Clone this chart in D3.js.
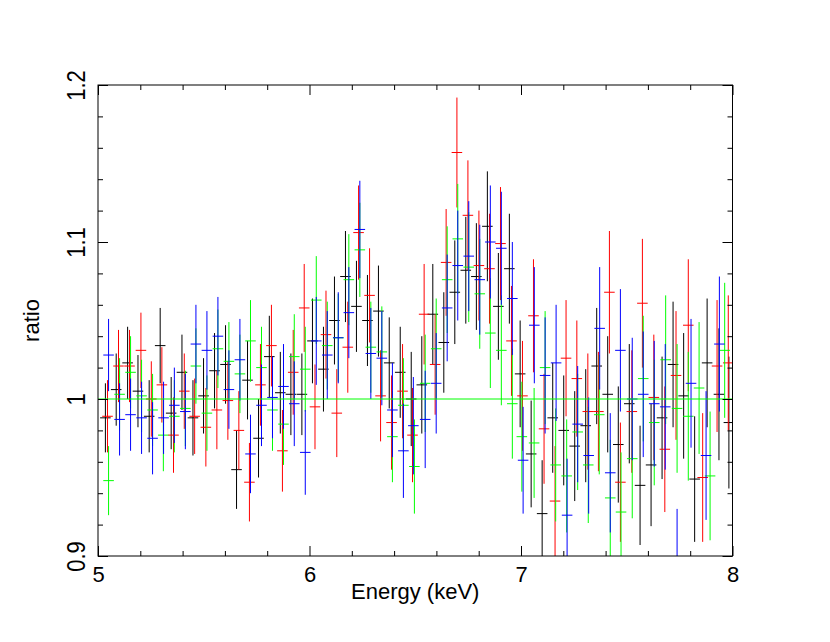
<!DOCTYPE html>
<html>
<head>
<meta charset="utf-8">
<script src="https://cdn.jsdelivr.net/npm/d3@7"></script>
<style>
  body { margin: 0; background: #fff; }
  text { font-family: "Liberation Sans", Arial, sans-serif; font-size: 22px; fill: #000; }
</style>
</head>
<body>
<div class="chart"></div>
<script>
// [energy keV, ratio, error] per bin
const blackData = [
  [5.035,0.988,0.022],[5.086,1.006,0.023],[5.140,1.023,0.023],[5.189,1.005,0.023],[5.242,0.989,0.023],
  [5.294,1.034,0.024],[5.346,0.991,0.023],[5.397,1.017,0.024],[5.449,0.988,0.024],[5.499,1.002,0.024],
  [5.551,1.018,0.024],[5.603,1.022,0.025],[5.655,0.955,0.025],[5.707,1.012,0.025],[5.759,0.975,0.025],
  [5.810,1.027,0.026],[5.862,1.004,0.026],[5.912,1.003,0.026],[5.964,1.003,0.026],[6.014,1.037,0.027],
  [6.066,1.019,0.027],[6.118,1.050,0.028],[6.170,1.078,0.029],[6.222,1.059,0.029],[6.274,1.050,0.029],
  [6.326,1.056,0.029],[6.377,1.023,0.029],[6.429,1.017,0.029],[6.481,1.000,0.030],[6.531,1.009,0.031],
  [6.583,1.054,0.032],[6.635,1.036,0.032],[6.687,1.068,0.033],[6.739,1.082,0.034],[6.789,1.078,0.034],
  [6.841,1.110,0.035],[6.893,1.059,0.034],[6.945,1.083,0.035],[6.996,1.016,0.034],[7.048,0.965,0.034],
  [7.100,0.927,0.034],[7.150,0.988,0.035],[7.202,0.980,0.035],[7.254,0.970,0.035],[7.306,0.983,0.036],
  [7.358,1.021,0.037],[7.410,1.003,0.037],[7.460,0.971,0.037],[7.512,0.997,0.038],[7.563,0.945,0.038],
  [7.615,0.958,0.039],[7.667,0.988,0.039],[7.719,1.022,0.040],[7.769,1.002,0.040],[7.821,0.949,0.040],
  [7.880,1.023,0.041],[7.936,1.003,0.042],[7.983,0.985,0.042]
];
const redData = [
  [5.045,0.989,0.023],[5.097,1.021,0.023],[5.149,1.021,0.023],[5.203,1.031,0.024],[5.252,1.000,0.024],
  [5.302,1.009,0.024],[5.357,0.977,0.024],[5.408,1.005,0.024],[5.457,0.989,0.024],[5.510,0.982,0.025],
  [5.562,0.993,0.025],[5.614,0.999,0.025],[5.666,0.980,0.025],[5.716,0.947,0.025],[5.768,1.009,0.026],
  [5.820,1.034,0.026],[5.872,0.967,0.026],[5.923,1.017,0.027],[5.975,1.058,0.028],[6.026,0.995,0.027],
  [6.078,1.041,0.028],[6.129,0.991,0.028],[6.181,1.033,0.029],[6.232,1.106,0.030],[6.284,1.066,0.030],
  [6.336,1.002,0.029],[6.388,0.985,0.030],[6.440,1.005,0.030],[6.487,0.977,0.030],[6.542,1.054,0.032],
  [6.594,1.022,0.032],[6.646,1.087,0.034],[6.697,1.157,0.035],[6.749,1.117,0.035],[6.801,1.085,0.035],
  [6.851,1.083,0.035],[6.903,1.099,0.036],[6.955,1.037,0.035],[7.007,1.002,0.035],[7.059,1.053,0.036],
  [7.109,0.981,0.035],[7.161,0.935,0.035],[7.213,1.026,0.037],[7.264,1.013,0.037],[7.316,0.992,0.037],
  [7.366,0.992,0.038],[7.418,1.068,0.039],[7.470,0.947,0.038],[7.524,0.992,0.039],[7.574,1.061,0.041],
  [7.628,1.001,0.040],[7.680,0.968,0.040],[7.733,1.015,0.041],[7.791,1.047,0.042],[7.859,0.950,0.041],
  [7.927,1.021,0.042],[7.980,1.023,0.043]
];
const greenData = [
  [5.050,0.948,0.022],[5.102,1.003,0.023],[5.154,1.017,0.023],[5.206,1.002,0.023],[5.258,0.993,0.023],
  [5.309,0.977,0.023],[5.361,0.989,0.023],[5.413,0.994,0.024],[5.463,1.021,0.024],[5.515,0.991,0.024],
  [5.567,1.032,0.025],[5.619,1.024,0.025],[5.671,1.016,0.025],[5.721,1.037,0.026],[5.773,1.020,0.026],
  [5.825,0.993,0.026],[5.877,0.984,0.026],[5.928,1.027,0.027],[5.980,1.019,0.027],[6.032,1.063,0.028],
  [6.084,1.034,0.028],[6.136,1.039,0.028],[6.186,1.076,0.029],[6.238,1.095,0.030],[6.290,1.033,0.029],
  [6.342,1.030,0.029],[6.392,0.976,0.029],[6.444,0.996,0.030],[6.496,0.957,0.030],[6.547,1.010,0.031],
  [6.599,1.032,0.032],[6.651,1.076,0.034],[6.701,1.102,0.035],[6.753,1.084,0.035],[6.805,1.067,0.035],
  [6.855,1.042,0.035],[6.907,1.031,0.035],[6.959,0.997,0.035],[7.004,0.976,0.035],[7.062,0.972,0.035],
  [7.114,1.020,0.036],[7.164,0.958,0.036],[7.216,0.951,0.036],[7.268,0.979,0.037],[7.318,0.958,0.037],
  [7.370,0.990,0.038],[7.422,0.937,0.037],[7.473,0.928,0.038],[7.526,0.962,0.038],[7.578,1.013,0.040],
  [7.630,0.985,0.040],[7.684,1.025,0.041],[7.738,0.994,0.041],[7.791,0.989,0.041],[7.842,1.007,0.042],
  [7.894,0.951,0.041],[7.963,1.031,0.043]
];
const blueData = [
  [5.050,1.028,0.023],[5.102,0.987,0.023],[5.154,0.990,0.023],[5.206,0.988,0.023],[5.258,0.975,0.023],
  [5.310,0.988,0.023],[5.361,0.996,0.024],[5.413,0.992,0.024],[5.463,1.035,0.025],[5.515,1.031,0.025],
  [5.567,1.040,0.025],[5.619,1.006,0.025],[5.671,1.025,0.026],[5.721,0.965,0.025],[5.773,0.996,0.026],
  [5.825,1.001,0.026],[5.877,1.008,0.027],[5.928,0.997,0.027],[5.980,0.966,0.027],[6.032,1.037,0.028],
  [6.084,1.028,0.028],[6.136,1.039,0.029],[6.186,1.055,0.029],[6.238,1.108,0.031],[6.290,1.029,0.029],
  [6.342,1.026,0.030],[6.392,0.993,0.030],[6.444,0.967,0.030],[6.491,0.983,0.031],[6.547,0.987,0.031],
  [6.599,1.010,0.032],[6.651,1.058,0.034],[6.701,1.085,0.035],[6.753,1.091,0.035],[6.805,1.076,0.035],
  [6.855,1.100,0.036],[6.907,1.096,0.036],[6.959,1.064,0.036],[7.010,0.961,0.034],[7.063,1.047,0.037],
  [7.114,1.015,0.037],[7.166,1.023,0.037],[7.218,0.926,0.036],[7.268,0.984,0.037],[7.320,0.964,0.037],
  [7.372,1.045,0.039],[7.422,0.953,0.038],[7.470,1.031,0.039],[7.526,1.000,0.039],[7.578,1.003,0.040],
  [7.630,0.997,0.040],[7.682,0.995,0.040],[7.738,0.890,0.040],[7.804,1.010,0.041],[7.875,0.964,0.041],
  [7.938,1.035,0.043]
];

const binHalf = 0.025;              // half bin width, keV
const modelRatio = 1;               // model line
const xMajor = [5, 6, 7, 8];
const xMinor = [5.2, 5.4, 5.6, 5.8, 6.2, 6.4, 6.6, 6.8, 7.2, 7.4, 7.6, 7.8];
const yMajor = [0.9, 1.0, 1.1, 1.2];
const yMinor = [0.92, 0.94, 0.96, 0.98, 1.02, 1.04, 1.06, 1.08, 1.12, 1.14, 1.16, 1.18];

const series = [
  { data: blackData, color: "#000000" },
  { data: redData,   color: "#ff0000" },
  { data: greenData, color: "#00ff00" },
  { data: blueData,  color: "#0000ff" }
];

// margin convention
const margin = {top: 85, right: 97.5, bottom: 86, left: 98};
const width = 830 - margin.left - margin.right,
      height = 642 - margin.top - margin.bottom;

const svg = d3.select(".chart").append("svg")
    .attr("width", 830)
    .attr("height", 642)
  .append("g")
    .attr("transform", `translate(${margin.left},${margin.top})`);

const xScale = d3.scaleLinear().domain([5, 8]).range([0, width]);
const yScale = d3.scaleLinear().domain([0.9, 1.2]).range([height, 0]);

svg.append("clipPath").attr("id", "plot-clip")
  .append("rect").attr("width", width).attr("height", height);

// data: bin width + error bar for each point
const plot = svg.append("g").attr("clip-path", "url(#plot-clip)");

series.forEach(s => {
  const g = plot.append("g").attr("stroke", s.color).attr("stroke-width", 1);
  g.selectAll(".xerr").data(s.data).join("line")
    .attr("class", "xerr")
    .attr("x1", d => xScale(d[0] - binHalf))
    .attr("x2", d => xScale(d[0] + binHalf))
    .attr("y1", d => yScale(d[1]))
    .attr("y2", d => yScale(d[1]));
  g.selectAll(".yerr").data(s.data).join("line")
    .attr("class", "yerr")
    .attr("x1", d => xScale(d[0]))
    .attr("x2", d => xScale(d[0]))
    .attr("y1", d => yScale(d[1] - d[2]))
    .attr("y2", d => yScale(d[1] + d[2]));
});

plot.append("line")
  .attr("x1", xScale(5)).attr("x2", xScale(8))
  .attr("y1", yScale(modelRatio)).attr("y2", yScale(modelRatio))
  .attr("stroke", "#00ff00").attr("stroke-width", 1);

// axes, ticks pointing inward on all four sides
const fmt = d3.format("~g");

function tickAxis(axisFn, scale, values, size, transform, labels) {
  const axis = axisFn(scale).tickValues(values).tickSizeInner(-size).tickSizeOuter(0)
    .tickFormat(labels ? fmt : "");
  const g = svg.append("g").attr("transform", transform).call(axis);
  g.select(".domain").remove();
  g.selectAll(".tick line").attr("stroke", "#000").attr("stroke-width", 1);
  g.selectAll("text").attr("fill", "#000").style("font-size", "22px")
    .style("font-family", '"Liberation Sans", Arial, sans-serif');
  return g;
}

const xAxisSVG = tickAxis(d3.axisBottom, xScale, xMajor, 10, `translate(0,${height})`, true);
xAxisSVG.selectAll("text").attr("y", 10.5);
tickAxis(d3.axisBottom, xScale, xMinor, 5, `translate(0,${height})`, false);
tickAxis(d3.axisTop, xScale, xMajor, 10, "translate(0,0)", false);
tickAxis(d3.axisTop, xScale, xMinor, 5, "translate(0,0)", false);

// y labels are rotated and a little taller in the original
const yAxisSVG = tickAxis(d3.axisLeft, yScale, yMajor, 10, "translate(0,0)", true);
yAxisSVG.selectAll("text")
  .attr("x", null).attr("dy", null)
  .attr("text-anchor", "middle")
  .attr("transform", "translate(-13.5,0) rotate(-90) scale(1,1.2)");
tickAxis(d3.axisLeft, yScale, yMinor, 5, "translate(0,0)", false);
tickAxis(d3.axisRight, yScale, yMajor, 10, `translate(${width},0)`, false);
tickAxis(d3.axisRight, yScale, yMinor, 5, `translate(${width},0)`, false);

// frame
svg.append("rect")
  .attr("width", width).attr("height", height)
  .attr("fill", "none").attr("stroke", "#000").attr("stroke-width", 1);

// axis titles
svg.append("text")
  .attr("x", width / 2).attr("y", height + 43)
  .attr("text-anchor", "middle")
  .text("Energy (keV)");

svg.append("text")
  .attr("transform", `translate(-59,${height / 2}) rotate(-90)`)
  .attr("text-anchor", "middle")
  .text("ratio");
</script>
</body>
</html>
